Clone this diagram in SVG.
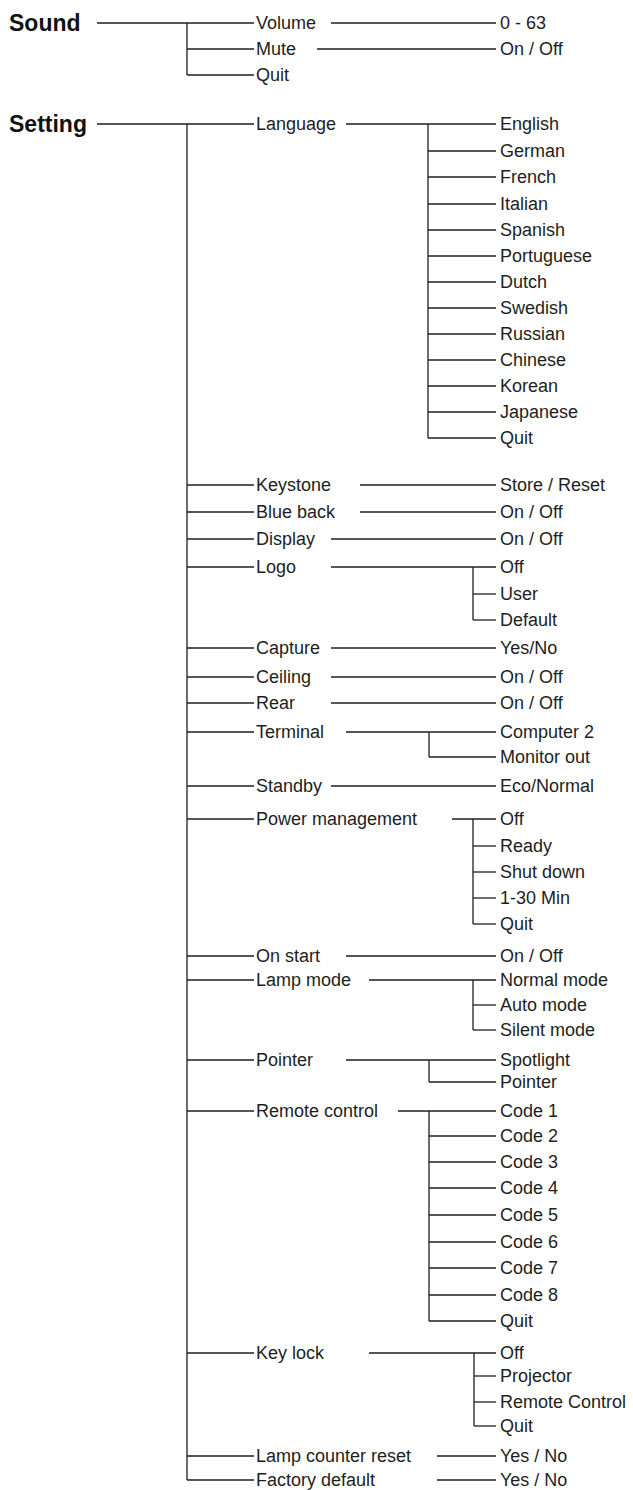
<svg xmlns="http://www.w3.org/2000/svg" width="633" height="1490" viewBox="0 0 633 1490">
<style>
.t{font-family:"Liberation Sans",Arial,sans-serif;font-size:18px;fill:#1e1e1e}
.b{font-family:"Liberation Sans",Arial,sans-serif;font-size:23px;font-weight:bold;fill:#111}
.c line{stroke:#1e1e1e;stroke-width:1.3}
</style>
<rect width="633" height="1490" fill="#fff"/>
<g class="c" id="connectors">
<line x1="97" y1="23" x2="254" y2="23"/><line x1="187" y1="23" x2="187" y2="75"/>
<line x1="187" y1="49" x2="254" y2="49"/><line x1="187" y1="75" x2="254" y2="75"/>
<line x1="331" y1="23" x2="496" y2="23"/><line x1="317" y1="49" x2="496" y2="49"/>
<line x1="97" y1="124" x2="254" y2="124"/><line x1="187" y1="124" x2="187" y2="1480"/>
<line x1="346" y1="124" x2="496" y2="124"/><line x1="428" y1="124" x2="428" y2="438"/>
<line x1="428" y1="151" x2="496" y2="151"/><line x1="428" y1="177" x2="496" y2="177"/><line x1="428" y1="204" x2="496" y2="204"/><line x1="428" y1="230" x2="496" y2="230"/><line x1="428" y1="256" x2="496" y2="256"/><line x1="428" y1="282" x2="496" y2="282"/><line x1="428" y1="308" x2="496" y2="308"/><line x1="428" y1="334" x2="496" y2="334"/><line x1="428" y1="360" x2="496" y2="360"/><line x1="428" y1="386" x2="496" y2="386"/><line x1="428" y1="412" x2="496" y2="412"/><line x1="428" y1="438" x2="496" y2="438"/>
<line x1="187" y1="485" x2="254" y2="485"/><line x1="360" y1="485" x2="496" y2="485"/>
<line x1="187" y1="512" x2="254" y2="512"/><line x1="360" y1="512" x2="496" y2="512"/>
<line x1="187" y1="539" x2="254" y2="539"/><line x1="331" y1="539" x2="496" y2="539"/>
<line x1="187" y1="567" x2="254" y2="567"/><line x1="331" y1="567" x2="496" y2="567"/><line x1="473" y1="567" x2="473" y2="620"/><line x1="473" y1="594" x2="496" y2="594"/><line x1="473" y1="620" x2="496" y2="620"/>
<line x1="187" y1="648" x2="254" y2="648"/><line x1="331" y1="648" x2="496" y2="648"/>
<line x1="187" y1="677" x2="254" y2="677"/><line x1="331" y1="677" x2="496" y2="677"/>
<line x1="187" y1="703" x2="254" y2="703"/><line x1="331" y1="703" x2="496" y2="703"/>
<line x1="187" y1="732" x2="254" y2="732"/><line x1="346" y1="732" x2="496" y2="732"/><line x1="429" y1="732" x2="429" y2="757"/><line x1="429" y1="757" x2="496" y2="757"/>
<line x1="187" y1="786" x2="254" y2="786"/><line x1="331" y1="786" x2="496" y2="786"/>
<line x1="187" y1="819" x2="254" y2="819"/><line x1="452" y1="819" x2="496" y2="819"/><line x1="473" y1="819" x2="473" y2="924"/><line x1="473" y1="846" x2="496" y2="846"/><line x1="473" y1="872" x2="496" y2="872"/><line x1="473" y1="898" x2="496" y2="898"/><line x1="473" y1="924" x2="496" y2="924"/>
<line x1="187" y1="956" x2="254" y2="956"/><line x1="346" y1="956" x2="496" y2="956"/>
<line x1="187" y1="980" x2="254" y2="980"/><line x1="369" y1="980" x2="496" y2="980"/><line x1="473" y1="980" x2="473" y2="1030"/><line x1="473" y1="1005" x2="496" y2="1005"/><line x1="473" y1="1030" x2="496" y2="1030"/>
<line x1="187" y1="1060" x2="254" y2="1060"/><line x1="346" y1="1060" x2="496" y2="1060"/><line x1="429" y1="1060" x2="429" y2="1082"/><line x1="429" y1="1082" x2="496" y2="1082"/>
<line x1="187" y1="1111" x2="254" y2="1111"/><line x1="398" y1="1111" x2="496" y2="1111"/><line x1="429" y1="1111" x2="429" y2="1321"/>
<line x1="429" y1="1136" x2="496" y2="1136"/><line x1="429" y1="1162" x2="496" y2="1162"/><line x1="429" y1="1188" x2="496" y2="1188"/><line x1="429" y1="1215" x2="496" y2="1215"/><line x1="429" y1="1242" x2="496" y2="1242"/><line x1="429" y1="1268" x2="496" y2="1268"/><line x1="429" y1="1295" x2="496" y2="1295"/><line x1="429" y1="1321" x2="496" y2="1321"/>
<line x1="187" y1="1353" x2="254" y2="1353"/><line x1="369" y1="1353" x2="496" y2="1353"/><line x1="474" y1="1353" x2="474" y2="1426"/><line x1="474" y1="1376" x2="496" y2="1376"/><line x1="474" y1="1402" x2="496" y2="1402"/><line x1="474" y1="1426" x2="496" y2="1426"/>
<line x1="187" y1="1456" x2="254" y2="1456"/><line x1="437" y1="1456" x2="496" y2="1456"/>
<line x1="187" y1="1480" x2="254" y2="1480"/><line x1="437" y1="1480" x2="496" y2="1480"/>
</g>
<g id="sound"><text class="b" x="9" y="31">Sound</text></g>
<g id="sound-items">
<text class="t" x="256" y="29">Volume</text><text class="t" x="500" y="29">0 - 63</text>
<text class="t" x="256" y="55">Mute</text><text class="t" x="500" y="55">On / Off</text>
<text class="t" x="256" y="81">Quit</text>
</g>
<g id="setting"><text class="b" x="9" y="132">Setting</text></g>
<g id="setting-items">
<text class="t" x="256" y="130">Language</text>
<text class="t" x="256" y="491">Keystone</text><text class="t" x="256" y="518">Blue back</text><text class="t" x="256" y="545">Display</text><text class="t" x="256" y="573">Logo</text>
<text class="t" x="256" y="654">Capture</text><text class="t" x="256" y="683">Ceiling</text><text class="t" x="256" y="709">Rear</text><text class="t" x="256" y="738">Terminal</text><text class="t" x="256" y="792">Standby</text><text class="t" x="256" y="825">Power management</text>
<text class="t" x="256" y="962">On start</text><text class="t" x="256" y="986">Lamp mode</text><text class="t" x="256" y="1066">Pointer</text><text class="t" x="256" y="1117">Remote control</text><text class="t" x="256" y="1359">Key lock</text><text class="t" x="256" y="1462">Lamp counter reset</text><text class="t" x="256" y="1486">Factory default</text>
</g>
<g id="options">
<text class="t" x="500" y="130">English</text><text class="t" x="500" y="157">German</text><text class="t" x="500" y="183">French</text><text class="t" x="500" y="210">Italian</text><text class="t" x="500" y="236">Spanish</text><text class="t" x="500" y="262">Portuguese</text><text class="t" x="500" y="288">Dutch</text><text class="t" x="500" y="314">Swedish</text><text class="t" x="500" y="340">Russian</text><text class="t" x="500" y="366">Chinese</text><text class="t" x="500" y="392">Korean</text><text class="t" x="500" y="418">Japanese</text><text class="t" x="500" y="444">Quit</text>
<text class="t" x="500" y="491">Store / Reset</text><text class="t" x="500" y="518">On / Off</text><text class="t" x="500" y="545">On / Off</text>
<text class="t" x="500" y="573">Off</text><text class="t" x="500" y="600">User</text><text class="t" x="500" y="626">Default</text>
<text class="t" x="500" y="654">Yes/No</text><text class="t" x="500" y="683">On / Off</text><text class="t" x="500" y="709">On / Off</text>
<text class="t" x="500" y="738">Computer 2</text><text class="t" x="500" y="763">Monitor out</text><text class="t" x="500" y="792">Eco/Normal</text>
<text class="t" x="500" y="825">Off</text><text class="t" x="500" y="852">Ready</text><text class="t" x="500" y="878">Shut down</text><text class="t" x="500" y="904">1-30 Min</text><text class="t" x="500" y="930">Quit</text>
<text class="t" x="500" y="962">On / Off</text><text class="t" x="500" y="986">Normal mode</text><text class="t" x="500" y="1011">Auto mode</text><text class="t" x="500" y="1036">Silent mode</text>
<text class="t" x="500" y="1066">Spotlight</text><text class="t" x="500" y="1088">Pointer</text>
<text class="t" x="500" y="1117">Code 1</text><text class="t" x="500" y="1142">Code 2</text><text class="t" x="500" y="1168">Code 3</text><text class="t" x="500" y="1194">Code 4</text><text class="t" x="500" y="1221">Code 5</text><text class="t" x="500" y="1248">Code 6</text><text class="t" x="500" y="1274">Code 7</text><text class="t" x="500" y="1301">Code 8</text><text class="t" x="500" y="1327">Quit</text>
<text class="t" x="500" y="1359">Off</text><text class="t" x="500" y="1382">Projector</text><text class="t" x="500" y="1408">Remote Control</text><text class="t" x="500" y="1432">Quit</text>
<text class="t" x="500" y="1462">Yes / No</text><text class="t" x="500" y="1486">Yes / No</text>
</g>
</svg>
